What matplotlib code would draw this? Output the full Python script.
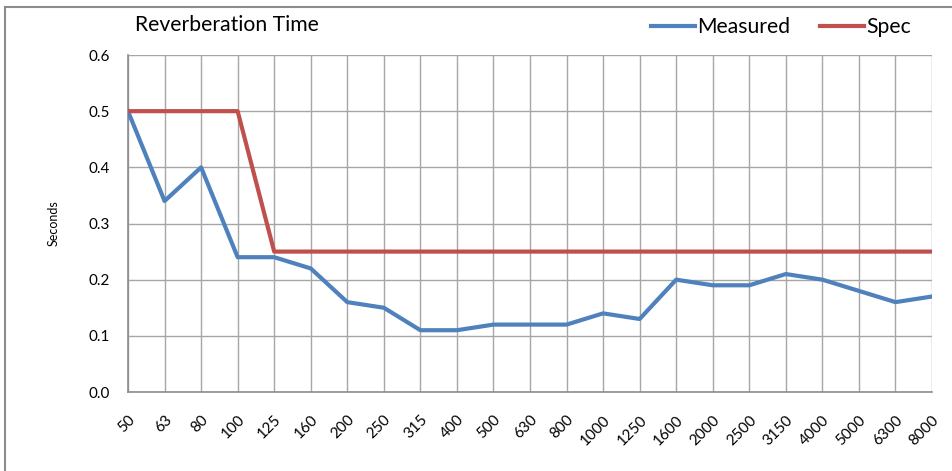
import matplotlib
matplotlib.use("Agg")
import matplotlib.pyplot as plt
from matplotlib.lines import Line2D

# octave-band centre frequencies (Hz)
freqs = ["50", "63", "80", "100", "125", "160", "200", "250", "315", "400",
         "500", "630", "800", "1000", "1250", "1600", "2000", "2500", "3150",
         "4000", "5000", "6300", "8000"]
measured = [0.50, 0.34, 0.40, 0.24, 0.24, 0.22, 0.16, 0.15, 0.11, 0.11,
            0.12, 0.12, 0.12, 0.14, 0.13, 0.20, 0.19, 0.19, 0.21, 0.20,
            0.18, 0.16, 0.17]
spec = [0.5, 0.5, 0.5, 0.5, 0.25, 0.25, 0.25, 0.25, 0.25, 0.25,
        0.25, 0.25, 0.25, 0.25, 0.25, 0.25, 0.25, 0.25, 0.25, 0.25,
        0.25, 0.25, 0.25]
yticks = [0.0, 0.1, 0.2, 0.3, 0.4, 0.5, 0.6]

plt.rcParams['font.family'] = ['Lato', 'DejaVu Sans']

W, H = 952, 471
fig = plt.figure(figsize=(W / 100, H / 100), dpi=100)
ax = fig.add_axes([128 / W, 1 - 392 / H, (932 - 128) / W, (392 - 55) / H])

x = list(range(len(freqs)))
ax.plot(x, measured, color="#4F81BD", lw=3, solid_joinstyle="round", zorder=3)
ax.plot(x, spec, color="#C0504D", lw=3, solid_joinstyle="round", zorder=3)

ax.set_xlim(0, len(freqs) - 1)
ax.set_ylim(0, 0.6)
ax.set_xticks(x)
ax.set_xticklabels(freqs, rotation=45, ha="right", va="top", rotation_mode="anchor",
                   fontsize=11)
ax.set_yticks(yticks)
ax.set_yticklabels([f"{v:.1f}" for v in yticks], fontsize=11)
ax.tick_params(axis="both", length=0)
ax.tick_params(axis="x", pad=15)
ax.tick_params(axis="y", pad=13)
ax.grid(True, color="#A6A6A6", lw=1)
ax.set_axisbelow(True)
for s in ["top", "right"]:
    ax.spines[s].set_visible(False)
for s in ["left", "bottom"]:
    ax.spines[s].set_color("#8C8C8C")
    ax.spines[s].set_linewidth(1.2)

ax.set_ylabel("Seconds", fontsize=9)
ax.yaxis.set_label_coords(-68 / (932 - 128), 0.5)

fig.text(135 / W, 1 - 25 / H, "Reverberation Time", fontsize=15.2, va="center", ha="left")

handles = [Line2D([], [], color="#4F81BD", lw=3),
           Line2D([], [], color="#C0504D", lw=3)]
fig.legend(handles, ["Measured", "Spec"], loc="center", bbox_to_anchor=(781 / W, 1 - 27 / H),
           ncol=2, frameon=False, fontsize=15.2, handlelength=2.1, handletextpad=0.1,
           columnspacing=1.4)

# outer chart border
fig.add_artist(Line2D([4.5 / W, 4.5 / W], [0, 1 - 7 / H], color="#8C8C8C", lw=1.5))
fig.add_artist(Line2D([4.5 / W, 1], [1 - 7 / H, 1 - 7 / H], color="#8C8C8C", lw=1.5))

fig.savefig("out.png", dpi=100)
